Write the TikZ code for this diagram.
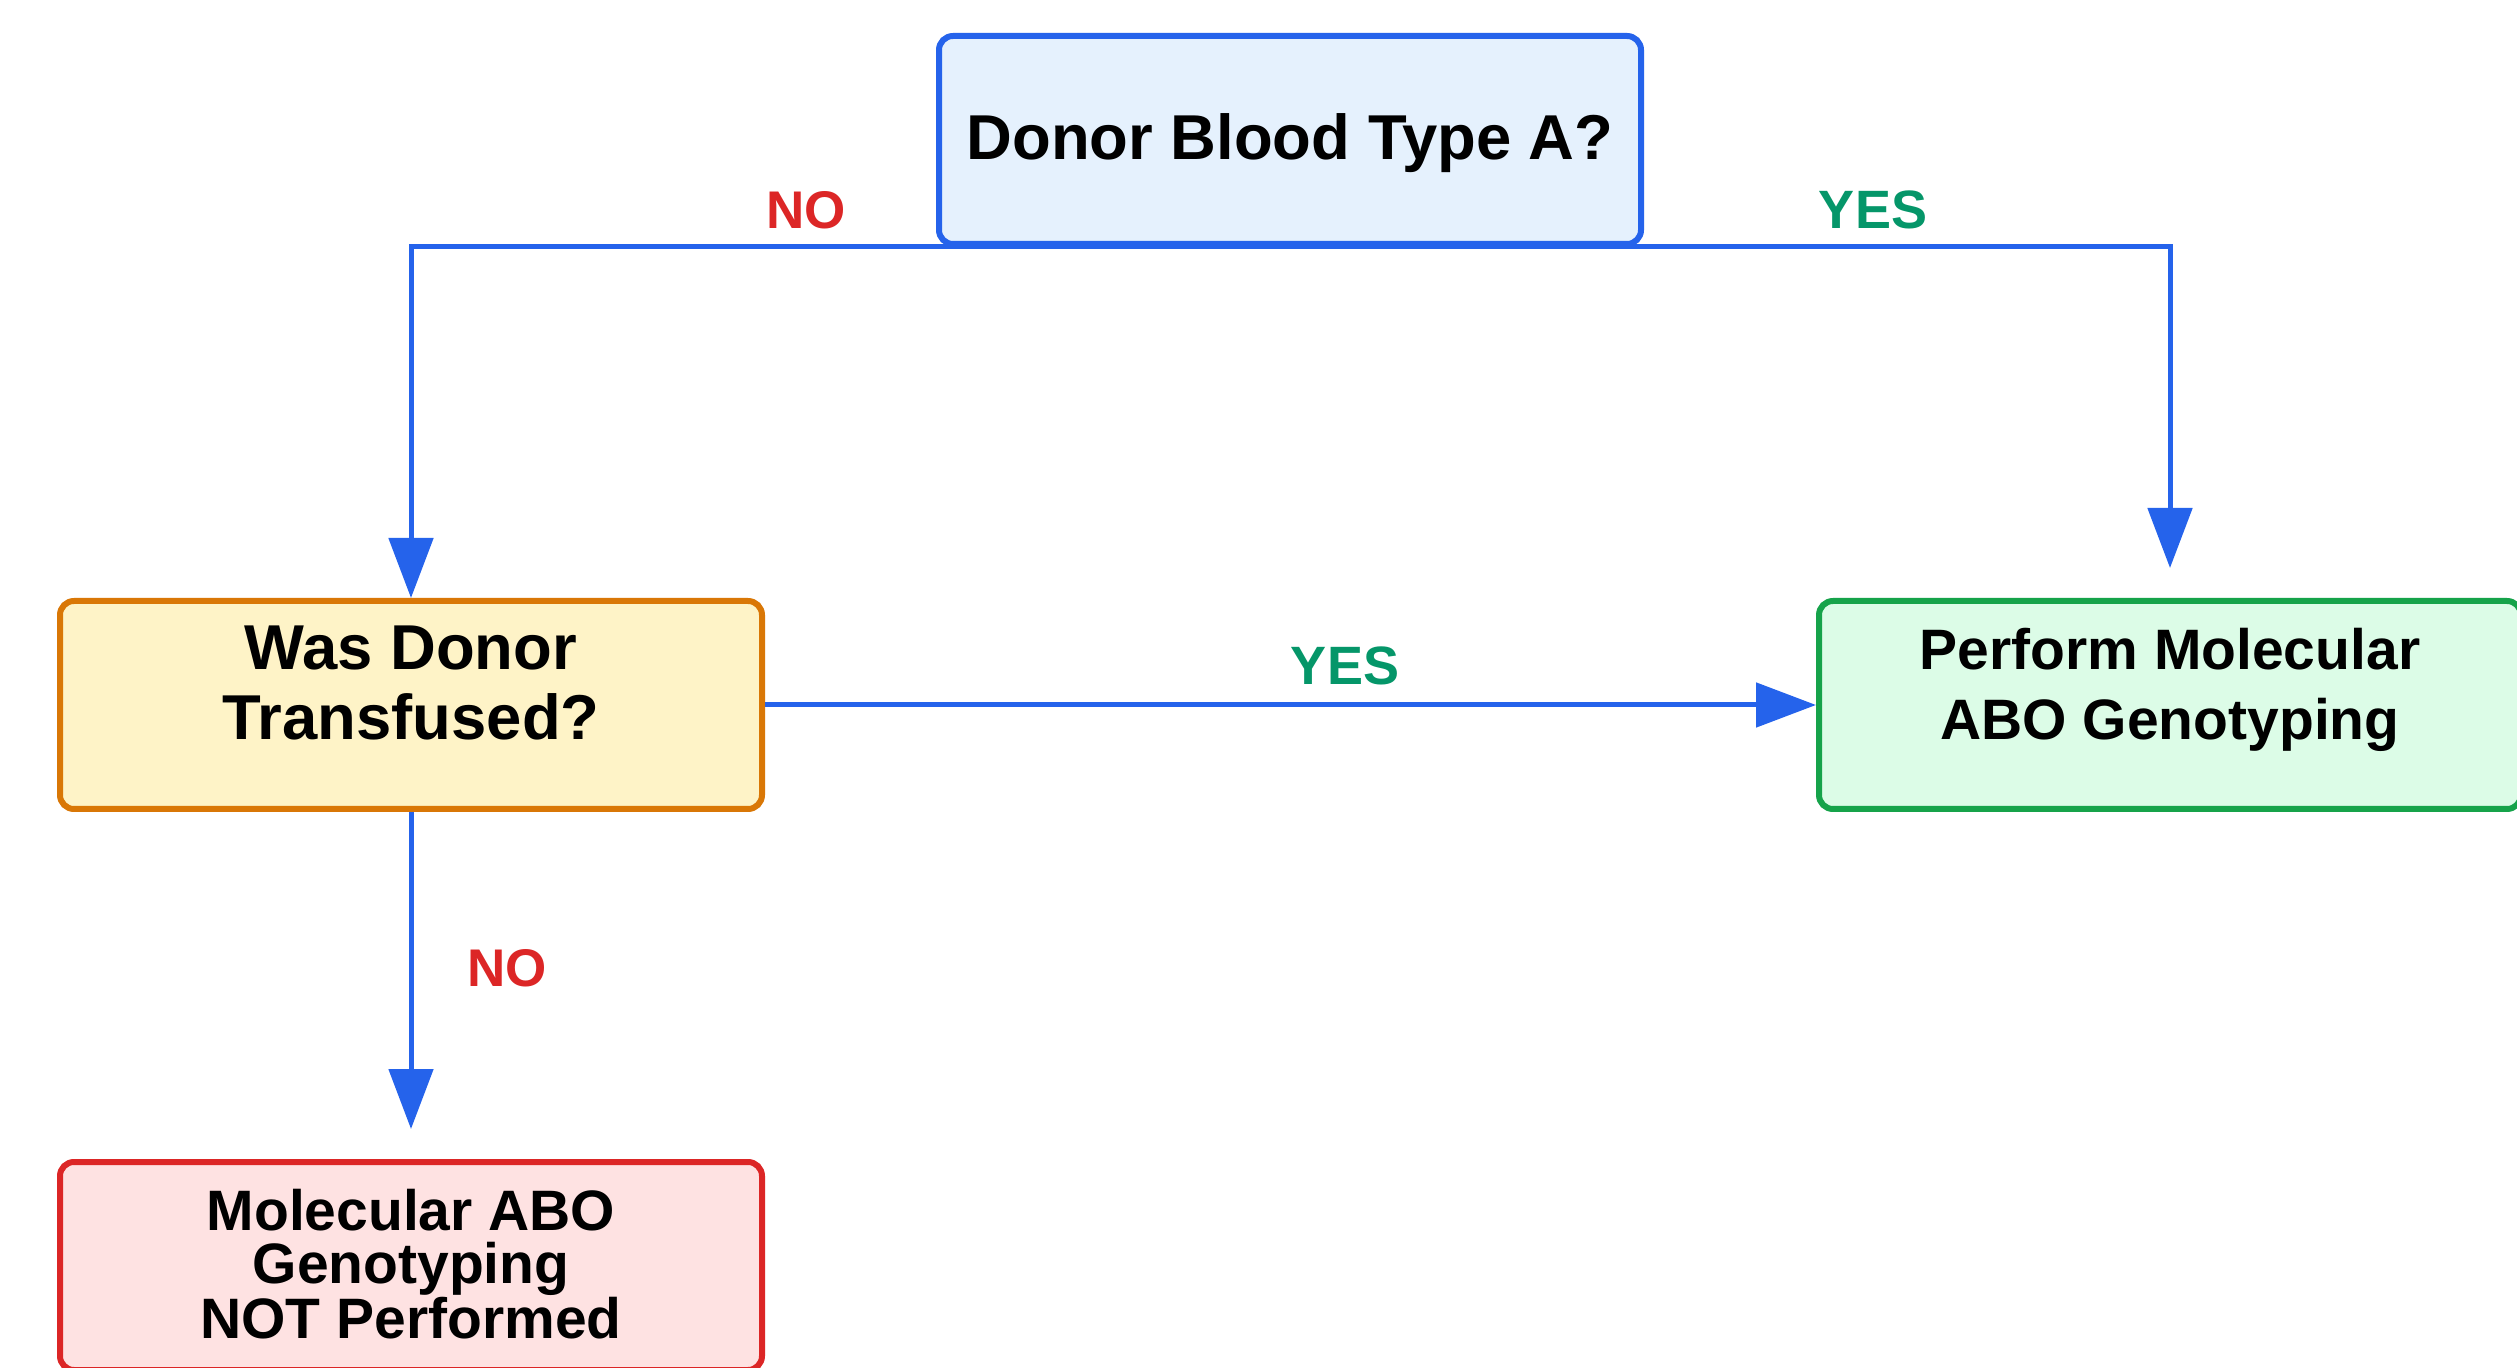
\documentclass[tikz,border=0pt]{standalone}
\usepackage{fontspec}
\setmainfont{Liberation Sans}
\usetikzlibrary{arrows.meta}
\definecolor{edgeblue}{HTML}{2563EB}
\definecolor{topfill}{HTML}{E5F1FD}
\definecolor{midfill}{HTML}{FEF3C7}
\definecolor{midline}{HTML}{D97706}
\definecolor{okfill}{HTML}{DCFCE7}
\definecolor{okline}{HTML}{16A34A}
\definecolor{nofill}{HTML}{FEE2E2}
\definecolor{noline}{HTML}{DC2626}
\definecolor{yesgreen}{HTML}{059669}
\tikzset{
  box/.style={draw, line width=3pt, rounded corners=7pt, minimum width=351pt, minimum height=104pt, inner sep=0pt},
  txt/.style={align=center, inner sep=0pt, text=black},
  conn/.style={draw=edgeblue, line width=2.5pt, -{Triangle[length=30pt,width=22pt]}},
  nolab/.style={text=noline, font=\bfseries\fontsize{26.5}{30}\selectfont, inner sep=0pt},
  yeslab/.style={text=yesgreen, font=\bfseries\fontsize{27}{30}\selectfont, inner sep=0pt},
}
\begin{document}
\begin{tikzpicture}[x=0.5pt,y=-0.5pt]
\useasboundingbox[fill=white] (0,0) rectangle (2517,1368);
% boxes
\node[box, draw=edgeblue, fill=topfill] (top) at (1290,140) {};
\node[box, draw=midline, fill=midfill] (mid) at (411,705) {};
\node[box, draw=okline, fill=okfill] (right) at (2170,705) {};
\node[box, draw=noline, fill=nofill] (bot) at (411,1266) {};
% texts
\node[txt, font=\bfseries\fontsize{31.7}{35}\selectfont] (toptext) at (1290,143) {Donor Blood Type A?};
\node[txt, font=\bfseries\fontsize{31.7}{35}\selectfont] (midtext) at (411,683) {Was Donor\\Transfused?};
\node[txt, font=\bfseries\fontsize{28.5}{35}\selectfont] (righttext) at (2170,690) {Perform Molecular\\ABO Genotyping};
\node[txt, font=\bfseries\fontsize{28.5}{26.5}\selectfont] (bottext) at (411,1264) {Molecular ABO\\Genotyping\\NOT Performed};
% connectors
\draw[conn] (top.south) -| (mid.north);
\draw[conn, shorten >=15pt] (top.south) -| (right.north);
\draw[conn] (mid.east) -- (right.west);
\draw[conn, shorten >=15pt] (mid.south) -- (bot.north);
% labels
\node[nolab] (l1) at (806,210) {NO};
\node[yeslab] (l2) at (1873,210) {YES};
\node[yeslab] (l3) at (1345,666) {YES};
\node[nolab] (l4) at (507,968) {NO};
\end{tikzpicture}
\end{document}
